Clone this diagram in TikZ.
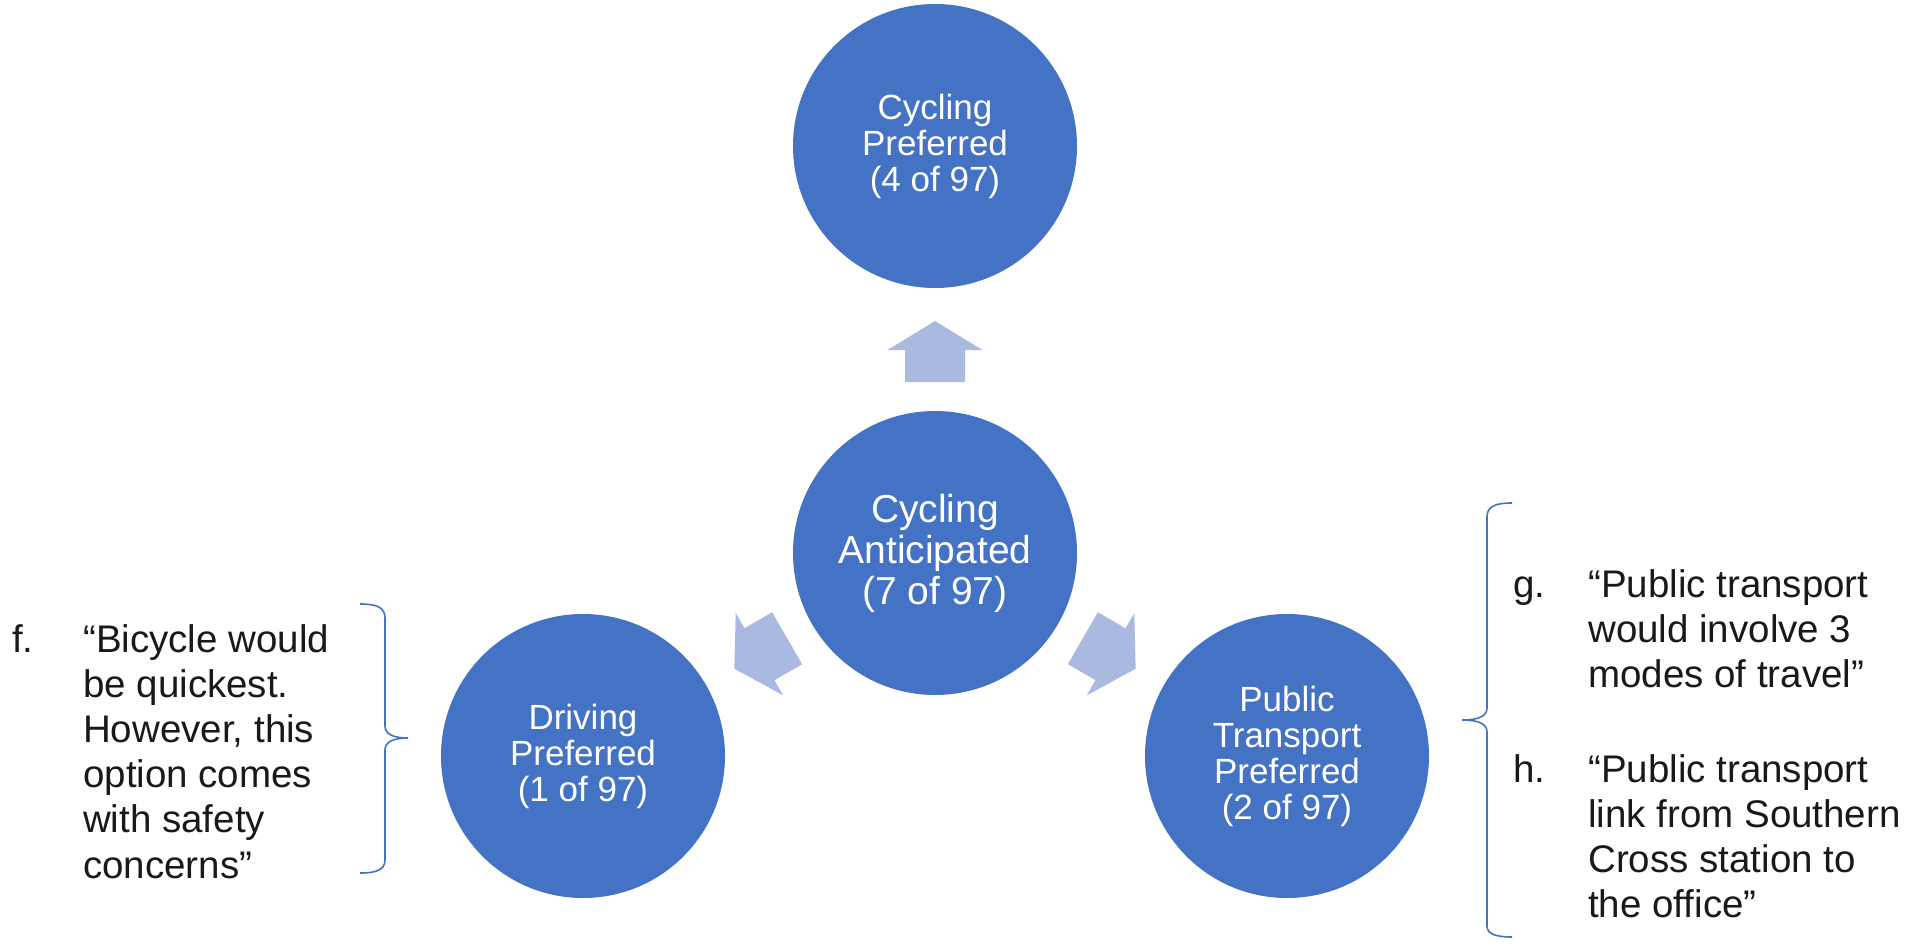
\documentclass[tikz,border=0pt]{standalone}
\usepackage{fontspec}
\setmainfont{Liberation Sans}
\definecolor{cblue}{HTML}{4472C4}
\definecolor{carrow}{HTML}{AAB9DF}
\tikzset{
 bubble/.style={circle, fill=cblue, minimum size=284pt, inner sep=0pt, text=white, align=center, font=\fontsize{35}{36}\selectfont},
 bigbubble/.style={bubble, font=\fontsize{39}{41}\selectfont},
 blockarrow/.style={fill=carrow},
 bracepath/.style={draw=cblue, line width=1.6pt},
 quote/.style={anchor=base west, align=left, inner sep=0pt, font=\fontsize{38.5}{45.2}\selectfont, text=black!90},
}
\begin{document}
\begin{tikzpicture}[x=1pt,y=-1pt]
\useasboundingbox (0,0) rectangle (1923,948);
\node[bigbubble] (ctr) at (935,553) {Cycling\\Anticipated\\(7 of 97)};
\node[bubble] (top) at (935,146) {Cycling\\Preferred\\(4 of 97)};
\node[bubble] (drv) at (583,756) {Driving\\Preferred\\(1 of 97)};
\node[bubble] (pt) at (1287,756) {Public\\Transport\\Preferred\\(2 of 97)};
\foreach \n/\a in {top/90, drv/210, pt/330} {
  \path (ctr.center) -- (\n.center) coordinate[pos=0.495] (m-\n);
  \fill[blockarrow, shift={(m-\n)}, rotate=\a] (-30.5,-30) -- (1.5,-30) -- (1.5,-47.5) -- (30.5,0) -- (1.5,47.5) -- (1.5,30) -- (-30.5,30) -- cycle;
}
\draw[bracepath] (360,604) .. controls (376,604) and (385,607) .. (385,618) -- (385,726) .. controls (385,734) and (393,738) .. (408,738) .. controls (393,738) and (385,742) .. (385,750) -- (385,860) .. controls (385,870) and (376,873) .. (360,873);
\draw[bracepath] (1512,503) .. controls (1496,503) and (1487,506) .. (1487,517) -- (1487,708) .. controls (1487,716) and (1479,720) .. (1462,720) .. controls (1479,720) and (1487,724) .. (1487,732) -- (1487,926) .. controls (1487,934) and (1496,937) .. (1512,937);
\node[quote] (fl) at (12,652) {f.};
\node[quote] (ft) at (83,878) {“Bicycle would\\be quickest.\\However, this\\option comes\\with safety\\concerns”};
\node[quote] (gl) at (1513,597) {g.};
\node[quote] (gt) at (1588,687.4) {“Public transport\\would involve 3\\modes of travel”};
\node[quote] (hl) at (1513,782) {h.};
\node[quote] (ht) at (1588,917.6) {“Public transport\\link from Southern\\Cross station to\\the office”};
\end{tikzpicture}
\end{document}
